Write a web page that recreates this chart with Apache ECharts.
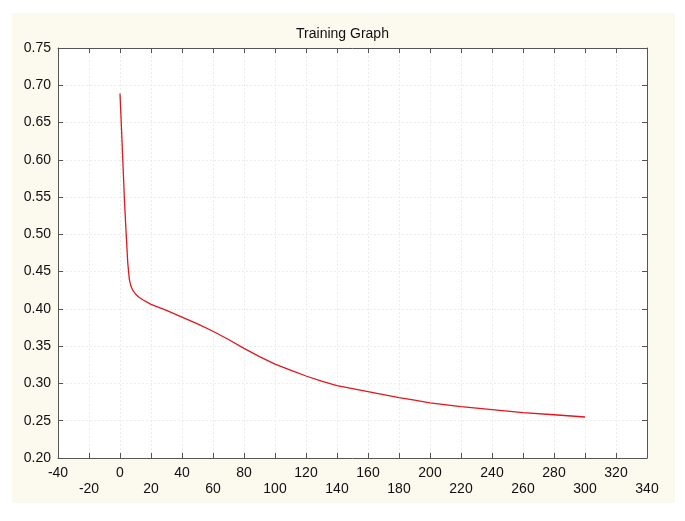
<!DOCTYPE html>
<html>
<head>
<meta charset="utf-8">
<script src="https://cdn.jsdelivr.net/npm/echarts@6/dist/echarts.min.js"></script>
<style>
html,body{margin:0;padding:0;background:#fff;}
#chart{width:685px;height:521px;}
</style>
</head>
<body>
<div id="chart"></div>
<script>
var titleText = 'Training Graph';
var epochs = [0, 1, 2, 3, 4, 5, 6, 7, 8, 10, 12, 15, 20, 25, 30, 40, 50, 60, 70, 80, 90, 100, 110, 120, 130, 140, 150, 160, 170, 180, 190, 200, 220, 240, 260, 280, 300];
var loss = [0.689, 0.640, 0.590, 0.540, 0.500, 0.462, 0.440, 0.431, 0.426, 0.420, 0.416, 0.412, 0.406, 0.402, 0.398, 0.389, 0.380, 0.370, 0.359, 0.347, 0.336, 0.326, 0.318, 0.310, 0.303, 0.297, 0.293, 0.289, 0.285, 0.281, 0.2775, 0.274, 0.269, 0.265, 0.261, 0.258, 0.255];
var xMin = -40, xMax = 340, xStep = 20;
var yMin = 0.20, yMax = 0.75, yStep = 0.05;

var points = epochs.map(function (e, i) { return [e, loss[i]]; });
var axisColor = '#555';
var gridLineStyle = { color: '#ececec', type: [2, 2], width: 1 };
var font = 'Liberation Sans, Arial, sans-serif';

function lineOpt() {
  return { show: true, onZero: false, lineStyle: { color: axisColor } };
}
function tickOpt() {
  return { show: true, inside: true, length: 5, lineStyle: { color: axisColor } };
}

var chart = echarts.init(document.getElementById('chart'));
chart.setOption({
  backgroundColor: '#ffffff',
  animation: false,
  graphic: [{
    type: 'rect', z: -10, silent: true,
    shape: { x: 12, y: 13, width: 663, height: 490 },
    style: { fill: '#fcf9ef' }
  }],
  title: {
    text: titleText, left: 'center', top: 22,
    textStyle: { fontFamily: font, fontSize: 14, fontWeight: 'normal', color: '#111' }
  },
  grid: { left: 58, right: 38, top: 48, bottom: 63, show: true, backgroundColor: '#fff', borderWidth: 0 },
  xAxis: [{
    type: 'value', min: xMin, max: xMax, interval: xStep, position: 'bottom',
    axisLine: lineOpt(), axisTick: tickOpt(),
    splitLine: { show: true, lineStyle: gridLineStyle },
    axisLabel: {
      margin: 7, fontFamily: font, fontSize: 14, color: '#111', lineHeight: 16,
      formatter: function (v) {
        var idx = Math.round((v - xMin) / xStep);
        return idx % 2 ? '\n' + v : '' + v;
      }
    }
  }, {
    type: 'value', min: xMin, max: xMax, interval: xStep, position: 'top',
    axisLine: lineOpt(), axisTick: tickOpt(),
    splitLine: { show: false }, axisLabel: { show: false }
  }],
  yAxis: [{
    type: 'value', min: yMin, max: yMax, interval: yStep, position: 'left',
    axisLine: lineOpt(), axisTick: tickOpt(),
    splitLine: { show: true, lineStyle: gridLineStyle },
    axisLabel: {
      margin: 7, fontFamily: font, fontSize: 14, color: '#111',
      formatter: function (v) { return v.toFixed(2); }
    }
  }, {
    type: 'value', min: yMin, max: yMax, interval: yStep, position: 'right',
    axisLine: lineOpt(), axisTick: tickOpt(),
    splitLine: { show: false }, axisLabel: { show: false }
  }],
  series: [{
    type: 'line', data: points, xAxisIndex: 0, yAxisIndex: 0,
    showSymbol: false, symbol: 'none', smooth: false,
    lineStyle: { color: '#e3161b', width: 1.3 }
  }]
});
</script>
</body>
</html>
